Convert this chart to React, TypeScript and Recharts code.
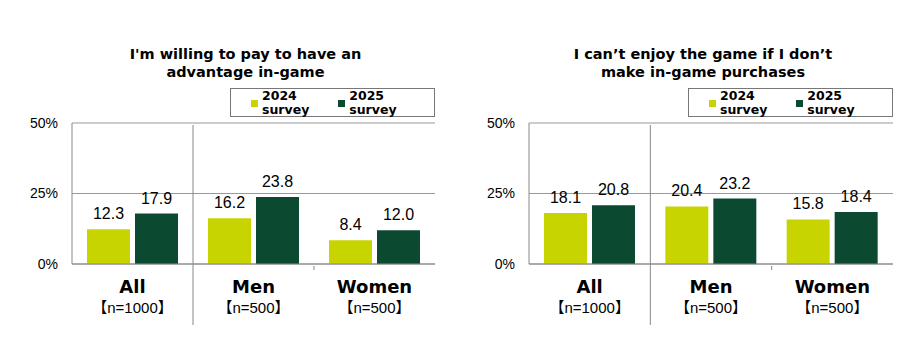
import React from 'react';
import { BarChart, Bar, XAxis, YAxis, CartesianGrid, LabelList } from 'recharts';

const categories = ['All', 'Men', 'Women'];
const sampleSizes = ['【n=1000】', '【n=500】', '【n=500】'];
const seriesNames = ['2024 survey', '2025 survey'];

const payToWin2024 = [12.3, 16.2, 8.4];
const payToWin2025 = [17.9, 23.8, 12.0];
const cantEnjoy2024 = [18.1, 20.4, 15.8];
const cantEnjoy2025 = [20.8, 23.2, 18.4];

const yTicks = [0, 25, 50];

const LIGHT = '#c8d400';
const DARK = '#0b4a30';
const SANS = '"Liberation Sans", Arial, sans-serif';
const HEAVY = '"DejaVu Sans", sans-serif';

const CHART_W = 462;
const CHART_H = 353;

interface PanelProps {
  title: string[];
  v2024: number[];
  v2025: number[];
  plotLeft: number;
  plotRight: number;
  offsetX: number;
}

const buildRows = (a: number[], b: number[]) =>
  categories.map((c, i) => ({ name: c, n: sampleSizes[i], y2024: a[i], y2025: b[i] }));

// legend drawn as a plain box so it doesn't eat into the plot area
const LegendBox = ({ left }: { left: number }) => (
  <div
    style={{
      position: 'absolute',
      left,
      top: 88,
      width: 205,
      border: '1px solid #777',
      height: 29,
      display: 'flex',
      fontFamily: HEAVY,
      fontWeight: 'bold',
      fontSize: 12.5,
      lineHeight: '14px',
      color: '#000',
      boxSizing: 'border-box',
    }}
  >
    {seriesNames.map((s, i) => {
      const [yr, word] = s.split(' ');
      return (
        <div key={s} style={{ display: 'flex', alignItems: 'center', marginLeft: i === 0 ? 20 : 29 }}>
          <span style={{ width: 7, height: 7, background: i === 0 ? LIGHT : DARK, marginRight: 4, marginTop: 1 }} />
          <div>
            <div>{yr}</div>
            <div>{word}</div>
          </div>
        </div>
      );
    })}
  </div>
);

const Panel: React.FC<PanelProps> = ({ title, v2024, v2025, plotLeft, plotRight, offsetX }) => {
  const data = buildRows(v2024, v2025);
  const plotTop = 123;
  const plotBottom = 264;
  const band = (plotRight - plotLeft) / categories.length;

  const CategoryTick = (props: any) => {
    const { x, y, payload, index } = props;
    const row = data[index];
    return (
      <g>
        {index === 1 && (
          <>
            <line x1={x - band / 2} x2={x - band / 2} y1={y - (plotBottom - plotTop)} y2={y + 59} stroke="#888" />
            <line x1={x + band / 2} x2={x + band / 2} y1={y} y2={y + 4} stroke="#888" />
          </>
        )}
        <text x={x} y={y + 27} textAnchor="middle" fontFamily={HEAVY} fontWeight="bold" fontSize={18} fill="#000">
          {payload.value}
        </text>
        <text x={x} y={y + 47} textAnchor="middle" fontFamily={SANS + ', "Noto Sans CJK JP"'} fontSize={15} fill="#000">
          {row ? row.n : ''}
        </text>
      </g>
    );
  };

  return (
    <div style={{ position: 'absolute', left: offsetX, top: 0, width: CHART_W, height: CHART_H }}>
      <div
        style={{
          position: 'absolute',
          left: plotLeft,
          width: plotRight - plotLeft,
          top: 45,
          textAlign: 'center',
          fontFamily: HEAVY,
          fontWeight: 'bold',
          fontSize: 14.5,
          lineHeight: '18px',
          color: '#000',
          marginLeft: -8,
        }}
      >
        {title.map((t) => (
          <div key={t}>{t}</div>
        ))}
      </div>
      <LegendBox left={plotRight - 205} />
      <BarChart
        width={CHART_W}
        height={CHART_H}
        data={data}
        margin={{ top: plotTop, right: CHART_W - plotRight, bottom: 0, left: 0 }}
        barSize={43}
        barGap={5}
      >
        <CartesianGrid vertical={false} stroke="#999" />
        <XAxis
          dataKey="name"
          height={CHART_H - plotBottom}
          tickLine={false}
          tickSize={0}
          axisLine={{ stroke: '#888' }}
          tick={<CategoryTick />}
          interval={0}
        />
        <YAxis
          width={plotLeft}
          domain={[0, 50]}
          ticks={yTicks}
          tickFormatter={(v: number) => `${v}%`}
          tickLine={false}
          tickSize={0}
          tickMargin={14}
          axisLine={{ stroke: '#888' }}
          tick={{ fill: '#000', fontSize: 14, fontFamily: SANS }}
        />
        <YAxis
          yAxisId="border"
          orientation="right"
          width={0}
          domain={[0, 50]}
          tick={false}
          tickLine={false}
          axisLine={{ stroke: '#bbb' }}
        />
        <Bar dataKey="y2024" name={seriesNames[0]} fill={LIGHT} isAnimationActive={false}>
          <LabelList
            dataKey="y2024"
            position="top"
            offset={10}
            formatter={(v: number) => v.toFixed(1)}
            style={{ fill: '#000', fontSize: 16, fontFamily: SANS }}
          />
        </Bar>
        <Bar dataKey="y2025" name={seriesNames[1]} fill={DARK} isAnimationActive={false}>
          <LabelList
            dataKey="y2025"
            position="top"
            offset={10}
            formatter={(v: number) => v.toFixed(1)}
            style={{ fill: '#000', fontSize: 16, fontFamily: SANS }}
          />
        </Bar>
      </BarChart>
    </div>
  );
}

export default function App() {
  return (
    <div style={{ position: 'absolute', left: 0, top: 0, width: 924, height: 353, background: '#fff', overflow: 'hidden' }}>
      <Panel
        title={["I'm willing to pay to have an", 'advantage in-game']}
        v2024={payToWin2024}
        v2025={payToWin2025}
        plotLeft={72}
        plotRight={435}
        offsetX={0}
      />
      <Panel
        title={['I can\u2019t enjoy the game if I don\u2019t', 'make in-game purchases']}
        v2024={cantEnjoy2024}
        v2025={cantEnjoy2025}
        plotLeft={67}
        plotRight={431}
        offsetX={462}
      />
    </div>
  );
}
